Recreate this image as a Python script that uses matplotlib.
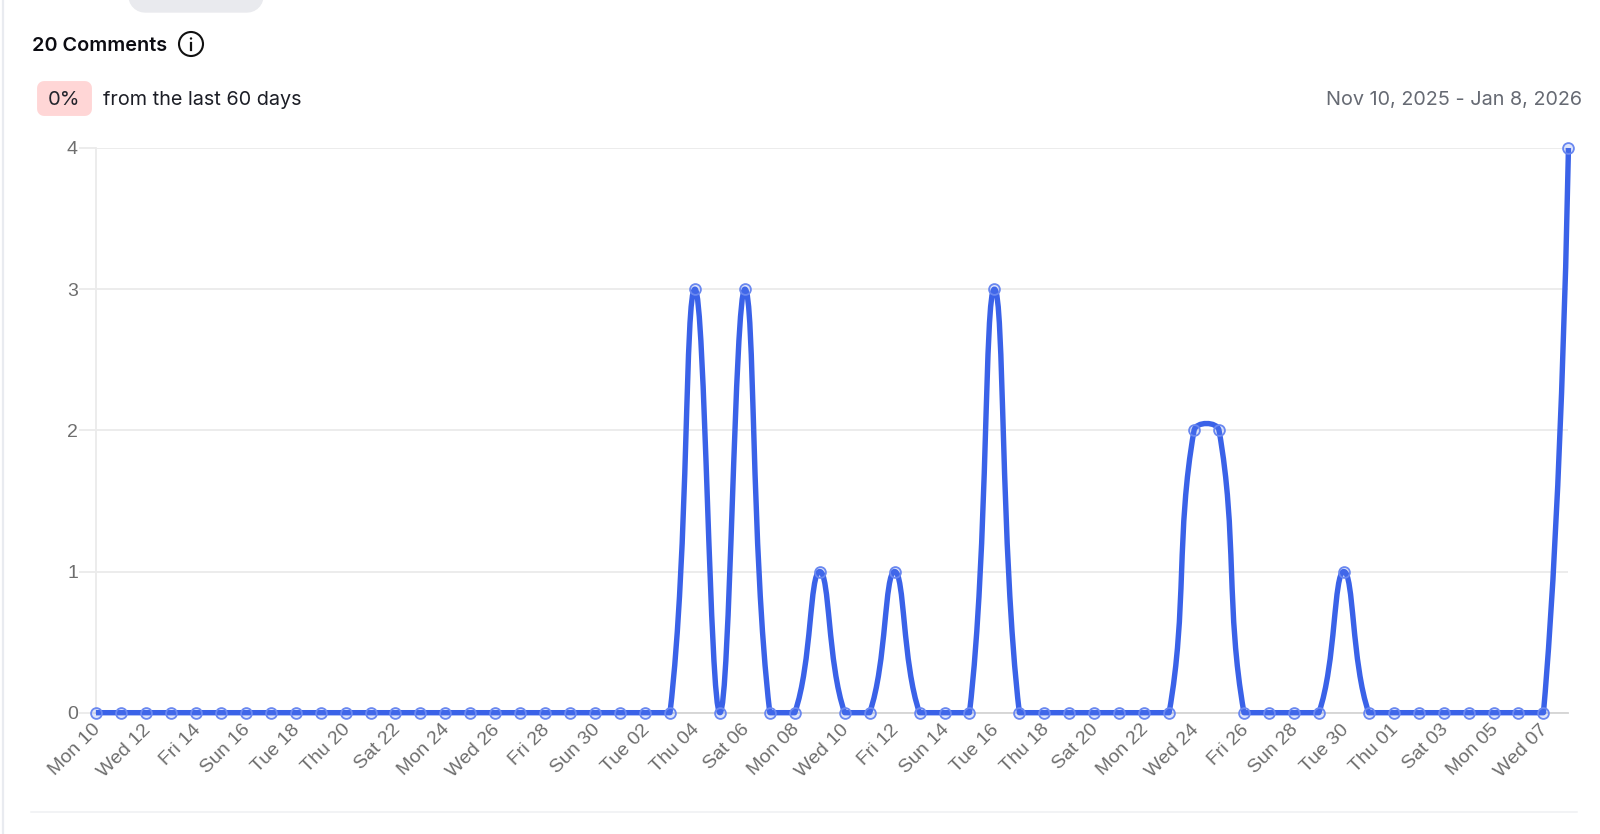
"""
Comments per day, Nov 10 2025 - Jan 8 2026.
Line chart with the chart.js style smoothing (tension 0.4).
"""
import numpy as np
import matplotlib
matplotlib.use("Agg")
import matplotlib.pyplot as plt
from matplotlib.path import Path
from matplotlib.patches import PathPatch, FancyBboxPatch, Circle
from matplotlib.transforms import ScaledTranslation

# DATA
days = list(range(60))
comments = [0, 0, 0, 0, 0, 0, 0, 0, 0, 0,
            0, 0, 0, 0, 0, 0, 0, 0, 0, 0,
            0, 0, 0, 0, 3, 0, 3, 0, 0, 1,
            0, 0, 1, 0, 0, 0, 3, 0, 0, 0,
            0, 0, 0, 0, 2, 2, 0, 0, 0, 0,
            1, 0, 0, 0, 0, 0, 0, 0, 0, 4]
tick_days = list(range(0, 60, 2))
tick_labels = ["Mon 10", "Wed 12", "Fri 14", "Sun 16", "Tue 18", "Thu 20",
               "Sat 22", "Mon 24", "Wed 26", "Fri 28", "Sun 30", "Tue 02",
               "Thu 04", "Sat 06", "Mon 08", "Wed 10", "Fri 12", "Sun 14",
               "Tue 16", "Thu 18", "Sat 20", "Mon 22", "Wed 24", "Fri 26",
               "Sun 28", "Tue 30", "Thu 01", "Sat 03", "Mon 05", "Wed 07"]
y_ticks = [0, 1, 2, 3, 4]

W, H = 1600, 834
LEFT, RIGHT, TOP, BOTTOM = 96, 1568.4, 148, 712.7
BLUE = "#3a62e8"
GRID = "#ebebeb"
TICK_GREY = "#6e6e6e"

plt.rcParams['font.family'] = ['Inter', 'DejaVu Sans']

fig = plt.figure(figsize=(W / 100, H / 100), dpi=100, facecolor="white")

# page furniture, drawn in pixel coordinates
bg = fig.add_axes([0, 0, 1, 1], zorder=0)
bg.set_xlim(0, W)
bg.set_ylim(H, 0)
bg.axis("off")

bg.plot([3, 3], [0, H], color="#e9ebf0", lw=1.6)
bg.plot([31, 1577], [812, 812], color="#eff0f3", lw=1.1)
bg.add_patch(FancyBboxPatch((145, -30), 102, 26, boxstyle="round,pad=0,rounding_size=0",
                            fc="#e9eaee", ec="#e9eaee", lw=24, joinstyle="round"))
bg.text(32, 45.5, "20 Comments", fontsize=14.3, fontweight="semibold", color="#0c0c12",
        ha="left", va="center")
bg.add_patch(Circle((191, 44), 12, fc="white", ec="#111111", lw=1.5))
bg.add_patch(Circle((191, 38.5), 1.2, fc="#111111", ec="none"))
bg.plot([191, 191], [43, 50], color="#111111", lw=1.6)
bg.add_patch(FancyBboxPatch((44, 88), 41, 21, boxstyle="round,pad=0,rounding_size=0",
                            fc="#ffd6d6", ec="#ffd6d6", lw=10, joinstyle="round"))
bg.text(64, 100, "0%", fontsize=14.5, color="#22242c", ha="center", va="center")
bg.text(103, 100, "from the last 60 days", fontsize=14.25, color="#1c1e26",
        ha="left", va="center")
bg.text(1582, 100, "Nov 10, 2025 - Jan 8, 2026", fontsize=14.25, color="#666a73",
        ha="right", va="center")

# CHART
ax = fig.add_axes([LEFT / W, 1 - BOTTOM / H, (RIGHT - LEFT) / W, (BOTTOM - TOP) / H], zorder=1)
ax.patch.set_alpha(0)
ax.set_xlim(days[0], days[-1])
ax.set_ylim(y_ticks[0], y_ticks[-1])

for side in ("top", "right"):
    ax.spines[side].set_visible(False)
ax.spines["left"].set_color(GRID)
ax.spines["left"].set_linewidth(1.3)
ax.spines["bottom"].set_color("#d4d4d4")
ax.spines["bottom"].set_linewidth(1.3)

ax.set_yticks(y_ticks)
ax.set_xticks(tick_days)
ax.set_xticklabels(tick_labels, rotation=45, ha="right", rotation_mode="anchor",
                   family=["Liberation Sans"], fontsize=14, color=TICK_GREY)
for lab in ax.get_yticklabels():
    lab.set_family(["Liberation Sans"])
ax.tick_params(axis="y", length=12.5, width=1.3, color=GRID, labelsize=14,
               labelcolor=TICK_GREY, pad=0.5)
ax.tick_params(axis="x", length=0, pad=6)
ax.grid(axis="y", color=GRID, lw=1.3)
ax.set_axisbelow(True)

# nudge the rotated labels left; has to come after tick_params, which resets the transform
nudge = ScaledTranslation(-4 / 100, 0, fig.dpi_scale_trans)
for lab in ax.get_xticklabels():
    lab.set_transform(lab.get_transform() + nudge)


def smooth_path(x, y, t=0.4):
    # same control points chart.js uses: spacing is measured in pixels
    sx = (RIGHT - LEFT) / (x[-1] - x[0])
    sy = (BOTTOM - TOP) / (y_ticks[-1] - y_ticks[0])
    verts = [(x[0], y[0])]
    codes = [Path.MOVETO]
    ctrl_in = [(x[0], y[0])]
    ctrl_out = []
    for i in range(len(x)):
        if i == 0 or i == len(x) - 1:
            ctrl_out.append((x[i], y[i]))
            if i:
                ctrl_in.append((x[i], y[i]))
            continue
        d01 = np.hypot((x[i] - x[i - 1]) * sx, (y[i] - y[i - 1]) * sy)
        d12 = np.hypot((x[i + 1] - x[i]) * sx, (y[i + 1] - y[i]) * sy)
        s01 = d01 / (d01 + d12)
        s12 = d12 / (d01 + d12)
        dx, dy = x[i + 1] - x[i - 1], y[i + 1] - y[i - 1]
        ctrl_in.append((x[i] - t * s01 * dx, np.clip(y[i] - t * s01 * dy, 0, 4)))
        ctrl_out.append((x[i] + t * s12 * dx, np.clip(y[i] + t * s12 * dy, 0, 4)))
    for i in range(len(x) - 1):
        verts += [ctrl_out[i], ctrl_in[i + 1], (x[i + 1], y[i + 1])]
        codes += [Path.CURVE4, Path.CURVE4, Path.CURVE4]
    return Path(verts, codes)


ax.add_patch(PathPatch(smooth_path(days, comments), fc="none", ec=BLUE, lw=3.9,
                       clip_on=False, zorder=3, joinstyle="round"))
ax.plot(days, comments, ls="none", marker="o", ms=7.8, mfc=(0.36, 0.5, 0.95, 0.2),
        mec="#6a88f0", mew=1.3, clip_on=False, zorder=4)

fig.savefig("out.png", dpi=100)
